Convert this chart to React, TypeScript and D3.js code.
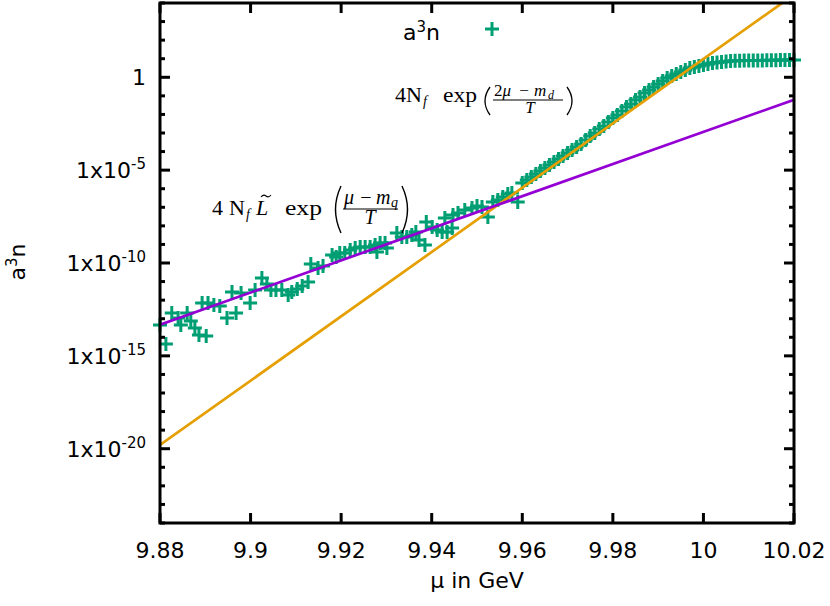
import React from 'react';
import * as d3 from 'd3';

// ---- data ----
const muValues: number[] = [
  9.8800, 9.8813, 9.8826, 9.8840, 9.8846, 9.8860, 9.8868, 9.8877, 9.8886, 9.8893,
  9.8902, 9.8906, 9.8919, 9.8932, 9.8948, 9.8959, 9.8968, 9.8979, 9.8999, 9.9010,
  9.9025, 9.9036, 9.9045, 9.9056, 9.9069, 9.9083, 9.9091, 9.9103, 9.9114, 9.9127,
  9.9133, 9.9149, 9.9160, 9.9180, 9.9189, 9.9197, 9.9208, 9.9220, 9.9231, 9.9242,
  9.9253, 9.9264, 9.9275, 9.9279, 9.9286, 9.9297, 9.9301, 9.9323, 9.9334, 9.9345,
  9.9356, 9.9365, 9.9372, 9.9385, 9.9388, 9.9401, 9.9412, 9.9423, 9.9429, 9.9434,
  9.9445, 9.9447, 9.9458, 9.9473, 9.9489, 9.9500, 9.9511, 9.9524, 9.9535, 9.9546,
  9.9557, 9.9568, 9.9577, 9.9590,
  9.960, 9.961, 9.962, 9.963, 9.964, 9.965, 9.966, 9.967, 9.968, 9.969,
  9.970, 9.971, 9.972, 9.973, 9.974, 9.975, 9.976, 9.977, 9.978, 9.979,
  9.980, 9.981, 9.982, 9.983, 9.984, 9.985, 9.986, 9.987, 9.988, 9.989,
  9.990, 9.991, 9.992, 9.993, 9.994, 9.995, 9.996, 9.997, 9.998, 9.999,
  10.000, 10.001, 10.002, 10.003, 10.004, 10.005, 10.006, 10.007, 10.008, 10.009,
  10.010, 10.011, 10.012, 10.013, 10.014, 10.015, 10.016, 10.017, 10.018, 10.019,
  10.020,
];

// log10 of a^3 n for each mu above
const a3nLog10: number[] = [
  -13.34, -14.36, -12.69, -12.96, -13.34, -12.69, -13.12, -13.50, -13.88, -12.15,
  -13.93, -12.15, -12.26, -12.32, -12.96, -11.56, -12.69, -11.62, -12.15, -11.45,
  -10.81, -11.13, -11.45, -11.45, -11.45, -11.72, -11.56, -11.40, -11.24, -11.02,
  -10.05, -10.27, -10.16, -9.57, -9.68, -9.46, -9.46, -9.30, -9.19, -9.14,
  -9.14, -9.14, -9.03, -9.41, -8.92, -8.92, -9.19, -8.38, -8.60, -8.60,
  -8.49, -8.33, -8.76, -9.03, -7.79, -8.06, -8.22, -8.33, -7.58, -8.33,
  -8.12, -7.42, -7.31, -7.15, -7.04, -6.93, -6.99, -7.52, -6.72, -6.61,
  -6.45, -6.28, -6.23, -6.72,
  -5.69, -5.53, -5.37, -5.21, -5.05, -4.88, -4.72, -4.56, -4.40, -4.24,
  -4.08, -3.92, -3.75, -3.59, -3.38, -3.16, -3.00, -2.78, -2.62, -2.41,
  -2.19, -2.03, -1.82, -1.60, -1.44, -1.22, -1.06, -0.85, -0.68, -0.52,
  -0.36, -0.20, -0.04, 0.07, 0.18, 0.28, 0.39, 0.50, 0.55, 0.61,
  0.66, 0.72, 0.77, 0.80, 0.82, 0.85, 0.88, 0.89, 0.89, 0.90,
  0.90, 0.91, 0.91, 0.91, 0.92, 0.92, 0.92, 0.93, 0.93, 0.93,
  0.93,
];

// fit lines: [mu, log10 value] end points
const orangeLine: [number, number][] = [[9.88, -19.8], [10.02, 4.45]];
const purpleLine: [number, number][] = [[9.88, -13.32], [10.02, -1.21]];

const xTicks = [9.88, 9.9, 9.92, 9.94, 9.96, 9.98, 10, 10.02];
const xTickLabels = ['9.88', '9.9', '9.92', '9.94', '9.96', '9.98', '10', '10.02'];
const yMajorExps = [-20, -15, -10, -5, 0];
const yMajorLabels: [string, string][] = [['1x10', '-20'], ['1x10', '-15'], ['1x10', '-10'], ['1x10', '-5'], ['1', '']];

const GREEN = '#009e73';
const ORANGE = '#e69f00';
const PURPLE = '#9400d3';
const SANS = 'DejaVu Sans';
const SERIF = 'Liberation Serif';

export default function App() {
  const L = 160, R = 794, T = 3, B = 523;
  const x = d3.scaleLinear().domain([9.88, 10.02]).range([L, R]);
  const y = d3.scaleLog().domain([1e-24, 1e4]).range([B, T]);

  const points = muValues.map((m, i) => ({ mu: m, v: Math.pow(10, a3nLog10[i]) }));
  const lineGen = d3.line<[number, number]>().x(d => x(d[0])).y(d => y(Math.pow(10, d[1])));

  const minorExps = d3.range(-24, 5).filter(e => e % 5 !== 0);
  const cross = 'M-7,0H7M0,-7V7';

  const paren = (x0: number, x1: number, y0: number, y1: number, left: boolean) => {
    const ym = (y0 + y1) / 2;
    return left
      ? `M${x1},${y0} Q${x0 - 1},${ym} ${x1},${y1}`
      : `M${x0},${y0} Q${x1 + 1},${ym} ${x0},${y1}`;
  };

  return (
    <svg width={830} height={606} style={{ position: 'absolute', left: 0, top: 0, background: '#fff' }}
      xmlns="http://www.w3.org/2000/svg">
      <defs>
        <clipPath id="plotclip"><rect x={L} y={T} width={R - L} height={B - T} /></clipPath>
      </defs>
      <rect x={0} y={0} width={830} height={606} fill="#fff" />

      {/* data points */}
      <g stroke={GREEN} strokeWidth={3} fill="none">
        {points.map((p, i) => (
          <path key={i} d={cross} transform={`translate(${x(p.mu)},${y(p.v)})`} />
        ))}
      </g>

      {/* lines */}
      <g clipPath="url(#plotclip)" fill="none" strokeWidth={2.7}>
        <path d={lineGen(orangeLine) || ''} stroke={ORANGE} />
        <path d={lineGen(purpleLine) || ''} stroke={PURPLE} />
      </g>

      {/* frame */}
      <rect x={L} y={T} width={R - L} height={B - T} fill="none" stroke="#000" strokeWidth={3} />

      {/* ticks */}
      <g stroke="#000" strokeWidth={3}>
        {xTicks.map((t, i) => (
          <g key={i}>
            <line x1={x(t)} x2={x(t)} y1={B} y2={B - 10} />
            <line x1={x(t)} x2={x(t)} y1={T} y2={T + 10} />
          </g>
        ))}
        {yMajorExps.map((e, i) => (
          <g key={'y' + i}>
            <line x1={L} x2={L + 10} y1={y(Math.pow(10, e))} y2={y(Math.pow(10, e))} />
            <line x1={R} x2={R - 10} y1={y(Math.pow(10, e))} y2={y(Math.pow(10, e))} />
          </g>
        ))}
        {minorExps.map((e, i) => (
          <g key={'m' + i}>
            <line x1={L} x2={L + 5} y1={y(Math.pow(10, e))} y2={y(Math.pow(10, e))} />
            <line x1={R} x2={R - 5} y1={y(Math.pow(10, e))} y2={y(Math.pow(10, e))} />
          </g>
        ))}
      </g>

      {/* tick labels */}
      <g fontFamily={SANS} fontSize={22} fill="#000">
        {xTicks.map((t, i) => (
          <text key={i} x={x(t)} y={558} textAnchor="middle">{xTickLabels[i]}</text>
        ))}
        {yMajorExps.map((e, i) => (
          <text key={'yl' + i} x={146} y={y(Math.pow(10, e)) + 8} textAnchor="end">
            {yMajorLabels[i][0]}
            {yMajorLabels[i][1] && <tspan fontSize={15} dy={-9}>{yMajorLabels[i][1]}</tspan>}
          </text>
        ))}
      </g>

      {/* axis titles */}
      <text x={477} y={588} textAnchor="middle" fontFamily={SANS} fontSize={22}>μ in GeV</text>
      <text transform="translate(25,262) rotate(-90)" textAnchor="middle" fontFamily={SANS} fontSize={22}>
        a<tspan fontSize={15} dy={-8}>3</tspan><tspan dy={8}>n</tspan>
      </text>

      {/* legend */}
      <text x={403} y={40} fontFamily={SANS} fontSize={22}>
        a<tspan fontSize={15} dy={-8}>3</tspan><tspan dy={8}>n</tspan>
      </text>
      <path d={cross} transform="translate(492,29)" stroke={GREEN} strokeWidth={3} fill="none" />

      {/* annotation 1: 4N_f exp((2mu - m_d)/T) */}
      <g fontFamily={SERIF} fill="#000">
        <text x={395} y={102} fontSize={22}>4N</text>
        <text x={423} y={106} fontSize={14} fontStyle="italic">f</text>
        <text x={443} y={102} fontSize={22} textLength={34} lengthAdjust="spacingAndGlyphs">exp</text>
        <path d={paren(481, 490, 87, 115, true)} stroke="#000" strokeWidth={1.3} fill="none" />
        <text x={494} y={96} fontSize={17}>2<tspan fontStyle="italic">μ</tspan></text>
        <text x={524} y={96} fontSize={17} textAnchor="middle">−</text>
        <text x={534} y={96} fontSize={17} fontStyle="italic">m</text>
        <text x={548} y={99} fontSize={12} fontStyle="italic">d</text>
        <line x1={493} x2={563} y1={100} y2={100} stroke="#000" strokeWidth={1.1} />
        <text x={530} y={113} fontSize={17} fontStyle="italic" textAnchor="middle">T</text>
        <path d={paren(567, 576, 87, 115, false)} stroke="#000" strokeWidth={1.3} fill="none" />
      </g>

      {/* annotation 2: 4 N_f L~ exp((mu - m_q)/T) */}
      <g fontFamily={SERIF} fill="#000">
        <text x={212} y={215} fontSize={22}>4</text>
        <text x={229} y={215} fontSize={22}>N</text>
        <text x={246} y={219} fontSize={14} fontStyle="italic">f</text>
        <text x={256} y={215} fontSize={22} fontStyle="italic">L</text>
        <path d="M261,197 q2.5,-3 5,-1 t5,-1" stroke="#000" strokeWidth={1.1} fill="none" />
        <text x={285} y={215} fontSize={22} textLength={37} lengthAdjust="spacingAndGlyphs">exp</text>
        <path d={paren(331, 341, 186, 233, true)} stroke="#000" strokeWidth={1.4} fill="none" />
        <text x={344} y={204} fontSize={20} fontStyle="italic">μ</text>
        <text x={366} y={204} fontSize={20} textAnchor="middle">−</text>
        <text x={376} y={204} fontSize={20} fontStyle="italic">m</text>
        <text x={391} y={207} fontSize={14} fontStyle="italic">q</text>
        <line x1={343} x2={398} y1={209} y2={209} stroke="#000" strokeWidth={1.1} />
        <text x={370} y={224} fontSize={20} fontStyle="italic" textAnchor="middle">T</text>
        <path d={paren(402, 412, 186, 233, false)} stroke="#000" strokeWidth={1.4} fill="none" />
      </g>
    </svg>
  );
}
